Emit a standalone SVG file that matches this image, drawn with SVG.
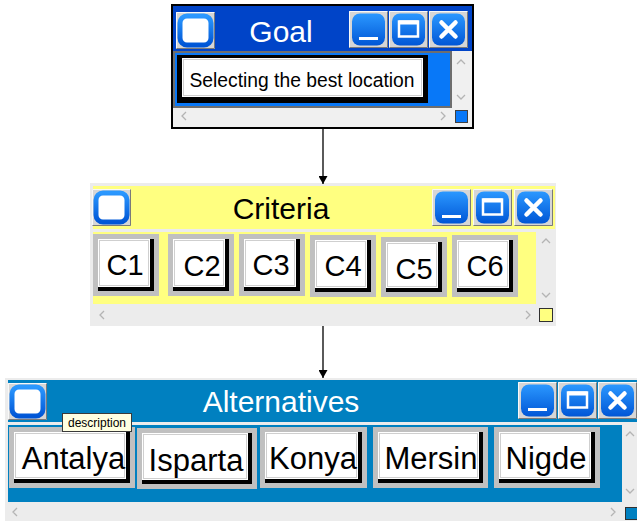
<svg xmlns="http://www.w3.org/2000/svg" xmlns:xlink="http://www.w3.org/1999/xlink" width="637" height="521" viewBox="0 0 637 521">
  <style>
    .title { font-family: "Liberation Sans", Arial, sans-serif; font-size: 30px; text-anchor: middle; }
    .lbl { font-family: "Liberation Sans", Arial, sans-serif; text-anchor: middle; fill: #000; }
    .ring { fill: #c0c0c0; }
    .shade { fill: #000; }
    .face { fill: #fff; }
    .bevel { fill: none; stroke: #cfcfcf; stroke-width: 1; }
    .chev { fill: none; stroke: #b4b4b4; stroke-width: 1.3; }
    .edge { stroke: #000; stroke-width: 1.3; fill: none; }
  </style>
  <defs>
    <linearGradient id="btnBlue" x1="0" y1="0" x2="0" y2="1">
      <stop offset="0" stop-color="#2b98ff"/>
      <stop offset="1" stop-color="#0056d6"/>
    </linearGradient>
    <marker id="arrow" viewBox="0 0 8 9" refX="8" refY="4.5" markerWidth="8" markerHeight="9" markerUnits="userSpaceOnUse" orient="auto">
      <path d="M0 0L8 4.5L0 9z" fill="#000"/>
    </marker>
    <!-- title bar button frame -->
    <g id="frame">
      <rect width="39" height="37" fill="#d6d6d6"/>
      <path d="M0.5 36.5V0.5H38.5" stroke="#f8f8f8" fill="none"/>
      <path d="M0.5 36.5H38.5V0.5" stroke="#7a7a7a" fill="none"/>
    </g>
    <g id="btn-icon">
      <use href="#frame"/>
      <rect x="4" y="4" width="31" height="29" rx="7" fill="#fff" stroke="url(#btnBlue)" stroke-width="5"/>
    </g>
    <g id="btn-min">
      <use href="#frame"/>
      <rect x="3" y="2.5" width="33" height="32" rx="8" fill="url(#btnBlue)"/>
      <rect x="10" y="26" width="19" height="3" fill="#fff"/>
    </g>
    <g id="btn-max">
      <use href="#frame"/>
      <rect x="3" y="2.5" width="33" height="32" rx="8" fill="url(#btnBlue)"/>
      <rect x="10" y="10.5" width="19" height="15" fill="none" stroke="#fff" stroke-width="2.5"/>
      <rect x="10" y="9.5" width="19" height="4" fill="#fff"/>
    </g>
    <g id="btn-close">
      <use href="#frame"/>
      <rect x="3" y="2.5" width="33" height="32" rx="8" fill="url(#btnBlue)"/>
      <path d="M12.5 11.5L26.5 25.5M26.5 11.5L12.5 25.5" stroke="#fff" stroke-width="4.5" stroke-linecap="round"/>
    </g>
  </defs>

  <rect width="637" height="521" fill="#fff"/>

  <!-- Goal window -->
  <g id="goal">
    <rect x="172" y="5" width="301" height="123" fill="#f0f0f0" stroke="#000" stroke-width="2"/>
    <rect x="173" y="6" width="299" height="45" fill="#0044c8"/>
    <rect x="174" y="52" width="277" height="55" fill="#0878f8" stroke="#6e6e6e" stroke-width="2"/>
    <use href="#btn-icon" x="176" y="12"/>
    <use href="#btn-min" x="349" y="11"/>
    <use href="#btn-max" x="389" y="11"/>
    <use href="#btn-close" x="429" y="11"/>
    <text class="title" x="281" y="42" fill="#fff">Goal</text>
    <path class="chev" d="M457 64l4-4 4 4M457 95l4 4 4-4M186 112l-4 4 4 4M441 112l4 4-4 4"/>
    <rect x="455.5" y="110.5" width="12" height="12" fill="#0878f8" stroke="#404040"/>
    <g id="goal-item">
      <rect x="177" y="55" width="251" height="48" fill="#000"/>
      <rect x="182" y="58" width="241" height="39" class="face"/>
      <rect x="183.5" y="59.5" width="238" height="36" class="bevel"/>
      <text class="lbl" x="302" y="87" font-size="19.3">Selecting the best location</text>
    </g>
  </g>

  <!-- Criteria window -->
  <g id="criteria">
    <rect x="90" y="183" width="466" height="143" fill="#ececec"/>
    <rect x="93" y="186" width="462" height="43" fill="#ffff80"/>
    <rect x="93" y="232" width="443" height="72" fill="#ffff80"/>
    <use href="#btn-icon" x="92" y="189"/>
    <use href="#btn-min" x="432" y="189"/>
    <use href="#btn-max" x="473" y="189"/>
    <use href="#btn-close" x="514" y="189"/>
    <text class="title" x="281" y="219" fill="#000" font-size="31.5">Criteria</text>
    <path class="chev" d="M542 243l4-4 4 4M542 293l4 4 4-4M104 311l-4 4 4 4M526 311l4 4-4 4"/>
    <rect x="539.5" y="308.5" width="13" height="13" fill="#ffff80" stroke="#303030"/>
  </g>
  <g id="c1">
    <rect class="ring" x="93" y="234" width="66" height="62"/>
    <rect class="shade" x="98" y="239" width="56" height="52"/>
    <rect class="face" x="98" y="239" width="52" height="48"/>
    <rect class="bevel" x="99.5" y="240.5" width="49" height="45"/>
    <text class="lbl" x="125" y="275" font-size="29">C1</text>
  </g>
  <g id="c2">
    <rect class="ring" x="168" y="234" width="66" height="62"/>
    <rect class="shade" x="173" y="239" width="56" height="52"/>
    <rect class="face" x="173" y="239" width="52" height="48"/>
    <rect class="bevel" x="174.5" y="240.5" width="49" height="45"/>
    <text class="lbl" x="202" y="276" font-size="29">C2</text>
  </g>
  <g id="c3">
    <rect class="ring" x="239" y="234" width="66" height="62"/>
    <rect class="shade" x="244" y="239" width="56" height="52"/>
    <rect class="face" x="244" y="239" width="52" height="48"/>
    <rect class="bevel" x="245.5" y="240.5" width="49" height="45"/>
    <text class="lbl" x="271" y="275" font-size="29">C3</text>
  </g>
  <g id="c4">
    <rect class="ring" x="310" y="235" width="66" height="62"/>
    <rect class="shade" x="315" y="240" width="56" height="52"/>
    <rect class="face" x="315" y="240" width="52" height="48"/>
    <rect class="bevel" x="316.5" y="241.5" width="49" height="45"/>
    <text class="lbl" x="343" y="276" font-size="29">C4</text>
  </g>
  <g id="c5">
    <rect class="ring" x="381" y="237" width="66" height="60"/>
    <rect class="shade" x="386" y="242" width="56" height="50"/>
    <rect class="face" x="386" y="242" width="52" height="46"/>
    <rect class="bevel" x="387.5" y="243.5" width="49" height="43"/>
    <text class="lbl" x="414" y="279" font-size="29">C5</text>
  </g>
  <g id="c6">
    <rect class="ring" x="452" y="235" width="66" height="62"/>
    <rect class="shade" x="457" y="240" width="56" height="52"/>
    <rect class="face" x="457" y="240" width="52" height="48"/>
    <rect class="bevel" x="458.5" y="241.5" width="49" height="45"/>
    <text class="lbl" x="485" y="276" font-size="29">C6</text>
  </g>

  <!-- Alternatives window -->
  <g id="alternatives">
    <rect x="5" y="378" width="632" height="143" fill="#ececec"/>
    <rect x="8" y="380" width="629" height="42" fill="#0080c0"/>
    <rect x="8" y="425" width="614" height="77" fill="#0080c0"/>
    <use href="#btn-icon" x="8" y="383"/>
    <use href="#btn-min" x="518" y="382"/>
    <use href="#btn-max" x="558" y="382"/>
    <use href="#btn-close" x="598" y="382"/>
    <text class="title" x="281" y="412" fill="#fff" font-size="32">Alternatives</text>
    <path class="chev" d="M626 436l4-4 4 4M626 489l4 4 4-4M17 508l-4 4 4 4M611 508l4 4-4 4"/>
    <rect x="625.5" y="507.5" width="12" height="12" fill="#0080c0" stroke="#303030"/>
  </g>
  <g id="antalya">
    <rect class="ring" x="9" y="427" width="126" height="61"/>
    <rect class="shade" x="14" y="432" width="116" height="51"/>
    <rect class="face" x="14" y="432" width="112" height="47"/>
    <rect class="bevel" x="15.5" y="433.5" width="109" height="44"/>
    <text class="lbl" x="73.5" y="469" font-size="31">Antalya</text>
  </g>
  <g id="isparta">
    <rect class="ring" x="137" y="428" width="120" height="61"/>
    <rect class="shade" x="142" y="433" width="110" height="51"/>
    <rect class="face" x="142" y="433" width="106" height="47"/>
    <rect class="bevel" x="143.5" y="434.5" width="103" height="44"/>
    <text class="lbl" x="196" y="471" font-size="31">Isparta</text>
  </g>
  <g id="konya">
    <rect class="ring" x="260" y="427" width="107" height="61"/>
    <rect class="shade" x="265" y="432" width="97" height="51"/>
    <rect class="face" x="265" y="432" width="93" height="47"/>
    <rect class="bevel" x="266.5" y="433.5" width="90" height="44"/>
    <text class="lbl" x="313" y="469" font-size="31">Konya</text>
  </g>
  <g id="mersin">
    <rect class="ring" x="373" y="427" width="115" height="61"/>
    <rect class="shade" x="378" y="432" width="105" height="51"/>
    <rect class="face" x="378" y="432" width="101" height="47"/>
    <rect class="bevel" x="379.5" y="433.5" width="98" height="44"/>
    <text class="lbl" x="431" y="469" font-size="31">Mersin</text>
  </g>
  <g id="nigde">
    <rect class="ring" x="494" y="427" width="106" height="61"/>
    <rect class="shade" x="499" y="432" width="96" height="51"/>
    <rect class="face" x="499" y="432" width="92" height="47"/>
    <rect class="bevel" x="500.5" y="433.5" width="89" height="44"/>
    <text class="lbl" x="546" y="469" font-size="31">Nigde</text>
  </g>
  <g id="tooltip">
    <rect x="62.5" y="413.5" width="69" height="18" fill="#ffffe1" stroke="#3a3a3a"/>
    <text class="lbl" x="97" y="427" font-size="12" fill="#333">description</text>
  </g>

  <!-- connectors -->
  <g id="connectors">
    <line class="edge" x1="323" y1="128" x2="323" y2="184" marker-end="url(#arrow)"/>
    <line class="edge" x1="323" y1="326" x2="323" y2="378" marker-end="url(#arrow)"/>
  </g>
</svg>
